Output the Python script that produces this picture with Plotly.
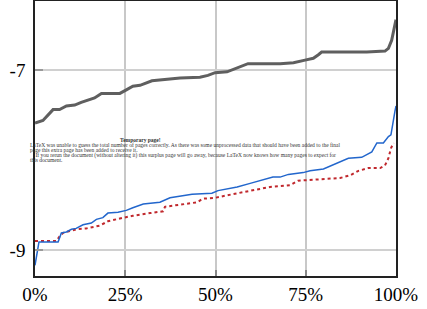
import plotly.graph_objects as go

# Gray series (x in %, y value)
gray_x = [0, 2.2, 5.0, 6.8, 8.7, 11.0, 12.8, 14.7, 16.5, 18.4, 23.5, 25.3, 27.1, 29.1, 32.4, 40.2, 45.7, 47.9, 49.9, 53.2, 59.0, 67.9, 71.6, 74.8, 77.1, 78.5, 79.4, 84.5, 91.9, 96.95, 97.9, 98.8, 99.4, 100]
gray_y = [-7.59, -7.56, -7.44, -7.44, -7.40, -7.39, -7.36, -7.33, -7.31, -7.26, -7.26, -7.22, -7.18, -7.17, -7.12, -7.09, -7.08, -7.06, -7.03, -7.02, -6.93, -6.93, -6.92, -6.89, -6.87, -6.83, -6.80, -6.80, -6.80, -6.79, -6.76, -6.67, -6.54, -6.44]

# Blue series
blue_x = [0, 1.1, 6.4, 7.3, 8.7, 10.1, 11.4, 13.3, 15.6, 17.0, 18.8, 20.2, 23.0, 25.3, 27.1, 30.0, 34.6, 37.4, 43.5, 49.0, 50.7, 56.0, 59.6, 63.2, 65.9, 67.9, 70.2, 74.3, 76.2, 79.9, 82.2, 84.0, 85.4, 86.8, 90.5, 93.3, 94.7, 96.5, 97.9, 98.6, 99.7, 100]
blue_y = [-9.17, -8.91, -8.91, -8.81, -8.80, -8.77, -8.76, -8.72, -8.70, -8.66, -8.64, -8.59, -8.58, -8.56, -8.53, -8.49, -8.47, -8.42, -8.38, -8.37, -8.34, -8.30, -8.26, -8.22, -8.19, -8.19, -8.16, -8.14, -8.12, -8.10, -8.06, -8.03, -8.01, -7.98, -7.97, -7.91, -7.81, -7.81, -7.74, -7.72, -7.46, -7.40]

# Red dotted series
red_x = [0, 5.9, 6.8, 7.8, 9.6, 11.4, 14.2, 17.9, 19.3, 20.2, 23.5, 27.1, 31.9, 35.5, 36.0, 44.9, 46.5, 49.9, 56.0, 61.5, 65.1, 67.9, 70.6, 72.9, 76.2, 81.7, 84.5, 87.3, 89.6, 92.3, 95.6, 96.95, 97.9, 98.6, 99.3]
red_y = [-8.90, -8.90, -8.85, -8.81, -8.79, -8.77, -8.76, -8.73, -8.70, -8.68, -8.65, -8.62, -8.59, -8.57, -8.52, -8.47, -8.43, -8.42, -8.37, -8.33, -8.30, -8.29, -8.28, -8.23, -8.22, -8.21, -8.20, -8.17, -8.12, -8.09, -8.09, -8.06, -7.98, -7.87, -7.81]

x_ticks = [0, 25, 50, 75, 100]
x_labels = ["0%", "25%", "50%", "75%", "100%"]
y_ticks = [-7, -9]
y_labels = ["-7", "-9"]

fig = go.Figure()
fig.add_trace(go.Scatter(x=gray_x, y=gray_y, mode="lines",
                         line=dict(color="#5f5f5f", width=3), showlegend=False))
fig.add_trace(go.Scatter(x=red_x, y=red_y, mode="lines",
                         line=dict(color="#c0282d", width=2, dash="dot"), showlegend=False))
fig.add_trace(go.Scatter(x=blue_x, y=blue_y, mode="lines",
                         line=dict(color="#2266cc", width=1.5), showlegend=False))

W, H = 427, 309
L, R, T, B = 35, 31, 1, 33
pw, ph = W - L - R, H - T - B

def px(x):
    return (x - L) / pw

def py(y):
    return (H - B - y) / ph

serif = "Liberation Serif, DejaVu Serif, serif"
anns = [
    dict(text="<b>Temporary page!</b>", x=px(140), y=py(140), xanchor="center"),
    dict(text="LaTeX was unable to guess the total number of pages correctly. As there was some unprocessed data that should have been added to the final",
         x=px(28), y=py(145.5), xanchor="left"),
    dict(text="page this extra page has been added to receive it.", x=px(28), y=py(150), xanchor="left"),
    dict(text="&nbsp;&nbsp;&nbsp;&nbsp;If you rerun the document (without altering it) this surplus page will go away, because LaTeX now knows how many pages to expect for",
         x=px(28), y=py(155), xanchor="left"),
    dict(text="this document.", x=px(28), y=py(159.5), xanchor="left"),
]
for a in anns:
    a.update(xref="paper", yref="paper", yanchor="middle", showarrow=False,
             font=dict(family=serif, size=5.5, color="#333"))

fig.update_layout(
    width=W, height=H,
    margin=dict(l=L, r=R, t=T, b=B, autoexpand=False),
    paper_bgcolor="white", plot_bgcolor="white",
    annotations=anns,
    xaxis=dict(range=[0, 100], tickvals=x_ticks, ticktext=x_labels,
               showgrid=True, gridcolor="#c8c8c8", gridwidth=1.5,
               ticks="inside", ticklen=6, tickcolor="#888", tickwidth=1.5,
               showline=True, linecolor="#222", linewidth=1.5, mirror=True,
               zeroline=False, tickfont=dict(family=serif, size=19, color="black")),
    yaxis=dict(range=[-9.289, -6.233], tickvals=y_ticks, ticktext=y_labels,
               showgrid=True, gridcolor="#d0d0d0", gridwidth=1.5,
               ticks="inside", ticklen=8, tickcolor="#999", tickwidth=1.5,
               ticklabelstandoff=4,
               showline=True, linecolor="#222", linewidth=1.5, mirror=True,
               zeroline=False, tickfont=dict(family=serif, size=19, color="black")),
)

fig.write_html("out.html", config={"displayModeBar": False},
               post_script="document.body.style.margin='0';")
